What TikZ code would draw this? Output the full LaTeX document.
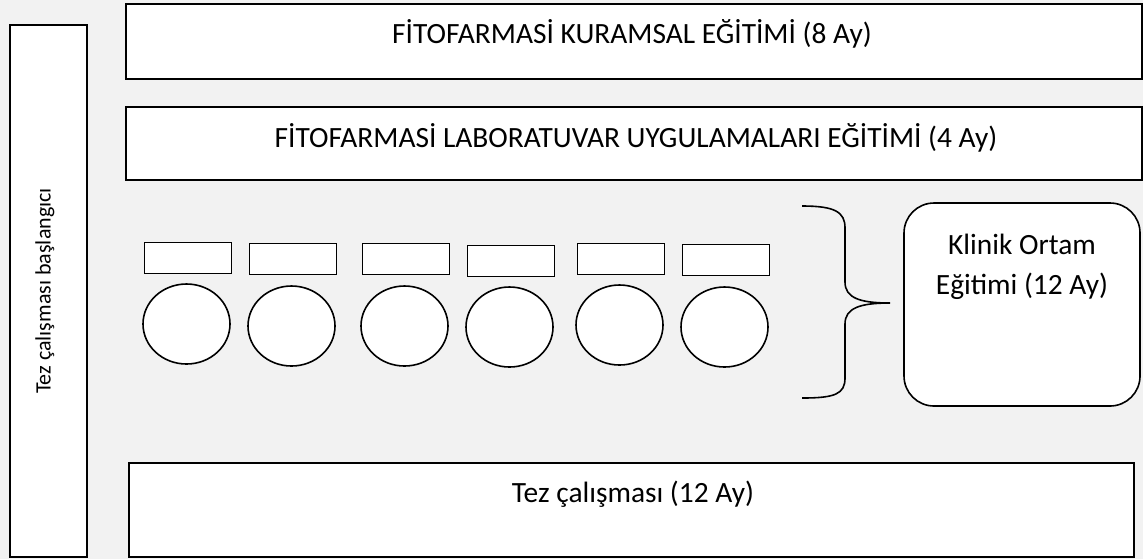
\documentclass[tikz,border=0pt]{standalone}
\usepackage{fontspec}
\setmainfont{Carlito}
\usetikzlibrary{shapes,backgrounds,positioning}
\usepackage{xcolor}
\definecolor{pagegrey}{HTML}{F2F2F2}

\begin{document}
\begin{tikzpicture}[x=0.5pt, y=-0.5pt,
        box/.style={draw, fill=white, line width=0.8pt, inner sep=0pt},
        blank/.style={box, minimum width=508pt},
        title/.style={font=\fontsize{14.7}{20}\selectfont, anchor=base, inner sep=0pt}]
            \def\brace{(802,206) .. controls (835,206) and (845,212) .. (845,228) -- (845,282)
                .. controls (845,298) and (860,303) .. (890,303)
                .. controls (860,303) and (845,308) .. (845,324) -- (845,378)
                .. controls (845,394) and (835,398) .. (802,398)}

            \fill[pagegrey] (0,0) rectangle (1143,559);
            \useasboundingbox (0,0) rectangle (1143,559);

            \node[box, minimum width=38.5pt, minimum height=266pt] (start) at (48.5,291) {};
            \node[rotate=90, font=\fontsize{11}{13}\selectfont] (starttext) at (45,291) {Tez çalışması başlangıcı};

            \node[blank, minimum height=37.5pt] (kuram) at (634,41.5) {};
            \node[title] (kuramtext) at (632,43) {FİTOFARMASİ KURAMSAL EĞİTİMİ (8 Ay)};

            \node[blank, minimum height=36.5pt] (lab) at (634,143.5) {};
            \node[title] (labtext) at (636,147) {FİTOFARMASİ LABORATUVAR UYGULAMALARI EĞİTİMİ (4 Ay)};

            \node[box, minimum width=502.5pt, minimum height=47pt] (tez) at (631.5,510) {};
            \node[title] (teztext) at (633,502) {Tez çalışması (12 Ay)};

            % small boxes and circles
            \foreach \i/\x/\ry/\cy in {1/188/258/324, 2/293/259/326, 3/406/259/326,
                                       4/511/261/327, 5/621/259/325, 6/726/260/327} {
                \node[box, minimum width=43.5pt, minimum height=15.5pt] (slot\i) at (\x,\ry) {};
                \node[box, ellipse, minimum width=43.5pt, minimum height=40pt] (ball\i) at (\x-1.5,\cy) {};
            }

            \draw[line width=0.8pt] \brace;

            \node[box, rounded corners=15pt, minimum width=118pt, minimum height=101.5pt] (klinik) at (1022,304.5) {};
            \node[title, anchor=north, align=center] (kliniktext) at (1022,234) {Klinik Ortam\\Eğitimi (12 Ay)};
        \end{tikzpicture}
\end{document}
